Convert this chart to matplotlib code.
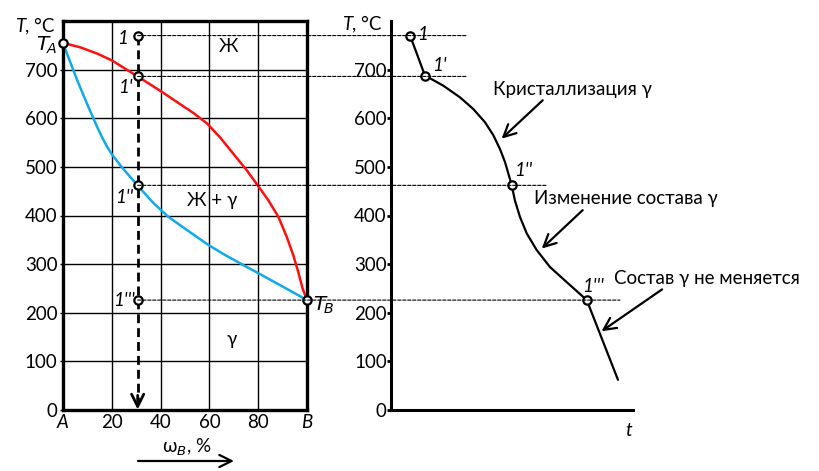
import matplotlib
matplotlib.use("Agg")
import matplotlib.pyplot as plt
from matplotlib.patches import ConnectionPatch, FancyArrowPatch

plt.rcParams['font.family'] = ['Lato', 'DejaVu Sans']
FS = 13.5

# ---- data ----
liquidus_x = [0, 7, 14, 20, 30.6, 40, 48, 53.4, 59.1, 64.3, 69.8, 75.3, 79.8,
              84.2, 88.3, 91.7, 94.4, 96.4, 98.2, 100]
liquidus_T = [755, 746, 733, 719, 686, 656, 629, 611, 589, 561, 527, 493, 462,
              431, 397, 356, 318, 284, 250, 226]
solidus_x = [0, 2, 4, 6, 8, 10, 12, 14, 16, 18, 20, 24, 30.5, 37, 43, 48, 59.1,
             66, 73.9, 79.8, 88.9, 100]
solidus_T = [755, 728, 702, 676, 652, 628, 605, 582, 561, 542, 526, 500, 462, 426,
             398, 380, 341, 320, 298, 282, 257, 226]
alloy_x = 30.6
points_T = [770, 686, 462, 226]          # 1, 1', 1'', 1'''
T_A, T_B = 755, 226
y_ticks = [0, 100, 200, 300, 400, 500, 600, 700]
x_ticks = [0, 20, 40, 60, 80, 100]
x_ticklabels = ['A', '20', '40', '60', '80', 'B']

cool_t = [7.9, 14.0, 21.6, 28.5, 34.0, 38.8, 42.3, 45.0, 47.1, 48.5, 49.9,
          51.2, 53.3, 56.1, 60.2, 65.7, 72.6, 80.9, 93.8]
cool_T = [770, 688, 667, 643, 619, 592, 565, 537, 510, 486, 462,
          431, 397, 363, 329, 294, 263, 226, 62]
point_t = [7.9, 14.0, 49.9, 80.9]
dash_end_t = [31.4, 31, 64.5, 94.6]

fig = plt.figure(figsize=(8.2, 4.71), dpi=100)
W, H = 820, 471

def axrect(x0, x1, ytop, ybot):
    return [x0 / W, (H - ybot) / H, (x1 - x0) / W, (ybot - ytop) / H]

# ---------- left: phase diagram ----------
ax1 = fig.add_axes(axrect(63, 307, 21, 410))
ax1.set_xlim(0, 100)
ax1.set_ylim(0, 800)
for s in ax1.spines.values():
    s.set_linewidth(2.4)
    s.set_color('black')
    s.set_zorder(5)
for v in x_ticks[1:-1]:
    ax1.axvline(v, color='black', lw=1.0, zorder=1)
for v in y_ticks[1:]:
    ax1.axhline(v, color='black', lw=1.0, zorder=1)
ax1.set_xticks(x_ticks)
ax1.set_xticklabels(x_ticklabels, fontsize=FS)
for lbl in ax1.get_xticklabels():
    if lbl.get_text() in ('A', 'B'):
        lbl.set_style('italic')
ax1.set_yticks(y_ticks)
ax1.set_yticklabels([str(v) for v in y_ticks], fontsize=FS)
ax1.tick_params(axis='y', length=2, width=1, pad=2)
ax1.tick_params(axis='x', length=0, pad=3)

ax1.plot(liquidus_x, liquidus_T, color='#ff1010', lw=1.8, zorder=3,
         solid_capstyle='round', solid_joinstyle='round')
ax1.plot(solidus_x, solidus_T, color='#10aae8', lw=1.8, zorder=3,
         solid_capstyle='round', solid_joinstyle='round')

ax1.plot([alloy_x, alloy_x], [points_T[0], 18], color='black', lw=2.0,
         linestyle=(0, (3.2, 1.8)), zorder=4)
ax1.annotate('', xy=(alloy_x, 1), xytext=(alloy_x, 30),
             arrowprops=dict(arrowstyle='->', lw=2.0, color='black', mutation_scale=22,
                             shrinkA=0, shrinkB=0), zorder=4)

mk = dict(marker='o', markersize=6, markerfacecolor='white', markeredgecolor='black',
          markeredgewidth=1.6, linestyle='none', zorder=6, clip_on=False)
ax1.plot([alloy_x] * 4, points_T, **mk)
ax1.plot([0, 100], [T_A, T_B], **mk)

it = dict(fontsize=FS, style='italic', color='black')
ax1.text(-2.5, T_A - 6, r'$\mathit{T}_{\!A}$', ha='right', va='center', fontsize=FS + 1)
ax1.text(102.5, T_B - 10, r'$\mathit{T}_{\!B}$', ha='left', va='center', fontsize=FS + 1)
ax1.text(alloy_x - 4, points_T[0] - 5, '1', ha='right', va='center', **it)
ax1.text(alloy_x - 2, points_T[1] - 22, "1'", ha='right', va='center', **it)
ax1.text(alloy_x - 2, points_T[2] - 24, "1''", ha='right', va='center', **it)
ax1.text(alloy_x - 1, points_T[3], "1'''", ha='right', va='center', **it)

ax1.text(68, 748, 'Ж', ha='center', va='center', fontsize=FS)
ax1.text(61, 431, 'Ж + γ', ha='center', va='center', fontsize=FS)
ax1.text(69, 144, 'γ', ha='center', va='center', fontsize=FS)

fig.text(16 / W, (H - 26) / H, 'T', fontsize=FS, style='italic', ha='left', va='center')
fig.text(25 / W, (H - 26) / H, ', °C', fontsize=FS, ha='left', va='center')
fig.text(187 / W, (H - 447) / H, r'ω$_B$, %', fontsize=FS, ha='center', va='center')
fig.add_artist(FancyArrowPatch(
    (138 / W, (H - 461) / H), (234 / W, (H - 461) / H), transform=fig.transFigure,
    arrowstyle='->', lw=1.6, mutation_scale=22, color='black', shrinkA=0, shrinkB=0))

# ---------- right: cooling curve ----------
ax2 = fig.add_axes(axrect(391, 633, 21, 410))
ax2.set_xlim(0, 100)
ax2.set_ylim(0, 800)
for s in ('top', 'right'):
    ax2.spines[s].set_visible(False)
for s in ('left', 'bottom'):
    ax2.spines[s].set_linewidth(2.2)
ax2.set_xticks([])
ax2.set_yticks(y_ticks)
ax2.set_yticklabels([str(v) for v in y_ticks], fontsize=FS)
ax2.tick_params(axis='y', length=3, width=2, pad=0)

ax2.plot(cool_t, cool_T, color='black', lw=1.6, zorder=3,
         solid_joinstyle='round', solid_capstyle='round')
ax2.plot(point_t, points_T, **mk)

ax2.text(point_t[0] + 3, points_T[0] + 2, '1', ha='left', va='center', **it)
ax2.text(point_t[1] + 3, points_T[1] + 22, "1'", ha='left', va='center', **it)
ax2.text(point_t[2] + 1, points_T[2] + 30, "1''", ha='left', va='center', **it)
ax2.text(point_t[3] - 2, points_T[3] + 28, "1'''", ha='left', va='center', **it)
ax2.text(98, -42, 't', ha='center', va='center', clip_on=False, **it)
fig.text(343 / W, (H - 24) / H, 'T', fontsize=FS, style='italic', ha='left', va='center')
fig.text(352 / W, (H - 24) / H, ', °C', fontsize=FS, ha='left', va='center')

ann = dict(arrowstyle='->', lw=1.6, color='black', mutation_scale=22, shrinkA=0, shrinkB=0)
ax2.text(42, 660, 'Кристаллизация γ', fontsize=FS, ha='left', va='center')
ax2.annotate('', xy=(45.7, 558), xytext=(62.7, 637), arrowprops=ann)
ax2.text(59, 434, 'Изменение состава γ', fontsize=FS, ha='left', va='center')
ax2.annotate('', xy=(62.3, 332), xytext=(79.2, 411), arrowprops=ann)
ax2.text(92, 270, 'Состав γ не меняется', fontsize=FS, ha='left', va='center', clip_on=False)
ax2.annotate('', xy=(87, 162), xytext=(112, 248), arrowprops=ann, annotation_clip=False)

# dotted connection lines
for T, te in zip(points_T, dash_end_t):
    con = ConnectionPatch(xyA=(alloy_x, T), coordsA=ax1.transData,
                          xyB=(te, T), coordsB=ax2.transData,
                          linestyle=(0, (3, 1.5)), lw=0.8, color='black', zorder=2)
    fig.add_artist(con)

fig.savefig('out.png', dpi=100)
